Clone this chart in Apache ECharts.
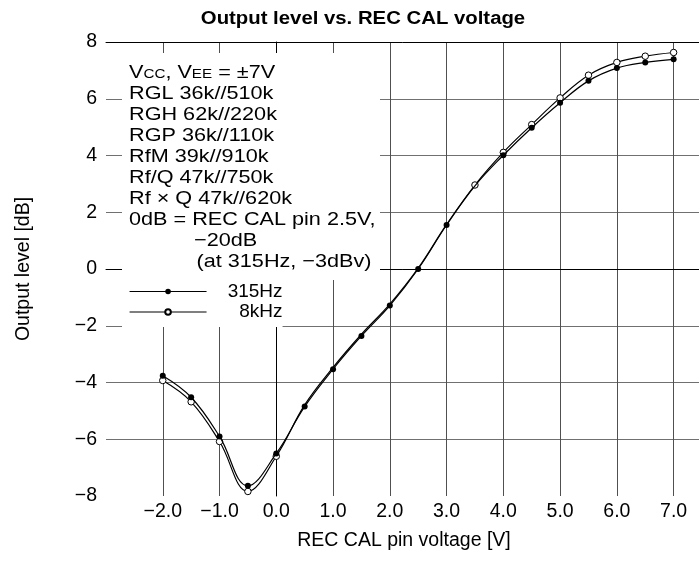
<!DOCTYPE html>
<html><head><meta charset="utf-8">
<script src="https://cdn.jsdelivr.net/npm/echarts@6/dist/echarts.min.js"></script>
<style>html,body{margin:0;padding:0;background:#fff}#c{width:699px;height:566px}</style>
</head><body><div id="c"></div>
<script>
// ---- data ----
const titleText = 'Output level vs. REC CAL voltage';
const xAxisName = 'REC CAL pin voltage [V]';
const yAxisName = 'Output level [dB]';
const seriesNames = ['315Hz', '8kHz'];

const x315 = [-2, -1.5, -1, -0.5, 0, 0.5, 1, 1.5, 2, 2.5, 3, 3.5, 4, 4.5, 5, 5.5, 6, 6.5, 7];
const y315 = [-3.76, -4.52, -5.90, -7.64, -6.50, -4.85, -3.53, -2.36, -1.29, 0.00, 1.55, 2.93, 4.01, 4.98, 5.86, 6.63, 7.08, 7.28, 7.39];
const x8k  = [-2, -1.5, -1, -0.5, 0, 0.5, 1, 1.5, 2, 2.5, 3, 3.5, 4, 4.5, 5, 5.5, 6, 6.5, 7];
const y8k  = [-3.93, -4.68, -6.08, -7.84, -6.60, -4.79, -3.47, -2.30, -1.24, 0.03, 1.57, 2.96, 4.11, 5.09, 6.03, 6.83, 7.28, 7.50, 7.63];
// measurement points drawn without a marker (covered in the original)
const x315Unmarked = [3.5];
const x8kUnmarked = [0.5, 1, 1.5, 2, 2.5, 3];

const xTickLabels = ['−2.0', '−1.0', '0.0', '1.0', '2.0', '3.0', '4.0', '5.0', '6.0', '7.0'];
const xTickValues = [-2, -1, 0, 1, 2, 3, 4, 5, 6, 7];
const yTickLabels = ['−8', '−6', '−4', '−2', '0', '2', '4', '6', '8'];
const yTickValues = [-8, -6, -4, -2, 0, 2, 4, 6, 8];

const noteLines = [
  '{v|V}{s|CC}{v|, V}{s|EE}{v| = ±7V}',
  '{v|RGL 36k//510k}',
  '{v|RGH 62k//220k}',
  '{v|RGP 36k//110k}',
  '{v|RfM 39k//910k}',
  '{v|Rf/Q 47k//750k}',
  '{v|Rf × Q 47k//620k}',
  '{v|0dB = REC CAL pin 2.5V,}',
  '{v|−20dB}',
  '{v|(at 315Hz, −3dBv)}'
];
const noteIndent = [0, 0, 0, 0, 0, 0, 0, 0, 65, 67.5];

// ---- chart ----
const FONT = '"Liberation Sans", Arial, Helvetica, sans-serif';
const chart = echarts.init(document.getElementById('c'), null, {renderer: 'canvas'});

function fmt(list, vals) {
  return function (v) {
    const i = vals.findIndex(t => Math.abs(t - v) < 1e-9);
    return i >= 0 ? list[i] : '';
  };
}

const graphics = [
  {type: 'rect', shape: {x: 122, y: 53, width: 258, height: 227}, style: {fill: '#fff'}, z: 10, silent: true},
  {type: 'text', x: 363, y: 19, scaleX: 1.13, z: 11, silent: true,
   style: {text: titleText, fontFamily: FONT, fontSize: 18, fontWeight: 'bold', fill: '#000', align: 'center', verticalAlign: 'middle'}}
];
noteLines.forEach((t, i) => {
  graphics.push({
    type: 'text', x: 129 + noteIndent[i], y: 71.5 + 21.1 * i, scaleX: 1.17, z: 11, silent: true,
    style: {
      text: t, fill: '#000', align: 'left', verticalAlign: 'middle',
      rich: {
        v: {fontFamily: FONT, fontSize: 18.5, fill: '#000', verticalAlign: 'bottom', lineHeight: 21},
        s: {fontFamily: FONT, fontSize: 13, fill: '#000', verticalAlign: 'bottom', lineHeight: 21, padding: [0, 0, 1, 0]}
      }
    }
  });
});

function mkData(xs, ys, unmarked) {
  return xs.map((x, i) => unmarked.includes(x) ? {value: [x, ys[i]], symbol: 'none'} : {value: [x, ys[i]]});
}

chart.setOption({
  animation: false,
  backgroundColor: '#fff',
  textStyle: {fontFamily: FONT},
  grid: {left: 106, top: 42, width: 596, height: 454, containLabel: false, outerBoundsMode: 'none'},
  legend: {
    data: seriesNames, orient: 'vertical', left: 122, top: 280,
    padding: [1.5, 0, 5, 7], itemWidth: 77, itemHeight: 7, itemGap: 0.5,
    backgroundColor: '#fff', selectedMode: false, z: 12,
    lineStyle: {width: 1.1},
    formatter: n => '{t|' + n + '}',
    textStyle: {fontFamily: FONT, fontSize: 19, color: '#000', lineHeight: 20,
      rich: {t: {fontFamily: FONT, fontSize: 19, color: '#000', width: 71, align: 'right', lineHeight: 20}}}
  },
  xAxis: [{
    type: 'value', min: -3, max: 7.5, interval: 1,
    name: xAxisName, nameLocation: 'middle', nameGap: 35,
    nameTextStyle: {fontFamily: FONT, fontSize: 19.5, color: '#000'},
    axisLine: {show: true, lineStyle: {color: '#000', width: 1}},
    axisTick: {show: false},
    axisLabel: {formatter: fmt(xTickLabels, xTickValues), fontFamily: FONT, fontSize: 19.5, color: '#000', margin: 6, showMinLabel: true, showMaxLabel: true},
    splitLine: {show: true, showMinLine: false, showMaxLine: false, lineStyle: {color: '#505050', width: 1}}
  }, {
    type: 'value', position: 'top', min: -3, max: 7.5, interval: 1,
    axisLine: {show: true, onZero: false, lineStyle: {color: '#000', width: 1}},
    axisTick: {show: false}, axisLabel: {show: false}, splitLine: {show: false}
  }],
  yAxis: {
    type: 'value', min: -8, max: 8, interval: 2,
    name: yAxisName, nameLocation: 'middle', nameGap: 72, nameRotate: 90,
    nameTextStyle: {fontFamily: FONT, fontSize: 19.5, color: '#000'},
    axisLine: {show: true, lineStyle: {color: '#000', width: 1}},
    axisTick: {show: false},
    axisLabel: {formatter: fmt(yTickLabels, yTickValues), fontFamily: FONT, fontSize: 19.5, color: '#000', margin: 9},
    splitLine: {show: true, showMinLine: false, showMaxLine: false, lineStyle: {color: '#707070', width: 1}}
  },
  graphic: graphics,
  series: [
    {
      name: seriesNames[1], type: 'line', data: mkData(x8k, y8k, x8kUnmarked),
      symbol: 'circle', symbolSize: 6.5, smooth: 0.4, z: 3,
      lineStyle: {color: '#000', width: 1.2},
      itemStyle: {color: '#fff', borderColor: '#000', borderWidth: 1},
      emphasis: {disabled: true}
    },
    {
      name: seriesNames[0], type: 'line', data: mkData(x315, y315, x315Unmarked),
      symbol: 'circle', symbolSize: 6, smooth: 0.4, z: 4,
      lineStyle: {color: '#000', width: 1.2},
      itemStyle: {color: '#000', borderColor: '#000', borderWidth: 0},
      emphasis: {disabled: true}
    }
  ]
});
</script></body></html>
